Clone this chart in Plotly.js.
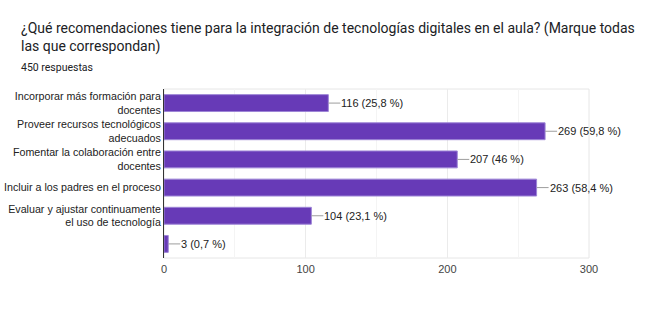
<!DOCTYPE html>
<html>
<head>
<meta charset="utf-8">
<script src="https://cdn.plot.ly/plotly-3.0.1.min.js"></script>
<style>html,body{margin:0;padding:0;background:#fff;}#chart{width:655px;height:309px;}</style>
</head>
<body>
<div id="chart"></div>
<script>
const categories = [
  "Incorporar más formación para<br>docentes",
  "Proveer recursos tecnológicos<br>adecuados",
  "Fomentar la colaboración entre<br>docentes",
  "Incluir a los padres en el proceso",
  "Evaluar y ajustar continuamente<br>el uso de tecnología",
  ""
];
const counts = [116, 269, 207, 263, 104, 3];
const percents = ["25,8", "59,8", "46", "58,4", "23,1", "0,7"];
const xTickVals = [0, 100, 200, 300];
const titleText = "¿Qué recomendaciones tiene para la integración de tecnologías digitales en el aula? (Marque todas<br>las que correspondan)";
const subtitleText = "450 respuestas";

const idx = categories.map((_, i) => i);

const trace = {
  type: 'bar',
  orientation: 'h',
  x: counts,
  y: idx,
  width: 0.6,
  marker: {color: '#673ab7', line: {color: '#9d85d6', width: 1}},
  hoverinfo: 'none'
};

const annotations = counts.map((v, i) => ({
  x: v, y: i, xref: 'x', yref: 'y',
  text: v + ' (' + percents[i] + ' %)',
  showarrow: true, arrowhead: 0, arrowwidth: 1, arrowcolor: '#9e9e9e',
  ax: 12, ay: 0, xanchor: 'left', borderpad: 0,
  font: {family: 'Arial, "Liberation Sans", sans-serif', size: 11, color: '#222'}
}));
annotations.push({
  xref: 'paper', yref: 'paper', x: -164/425 + 19/425, y: 1 + (89-18)/169,
  xanchor: 'left', yanchor: 'top', align: 'left', showarrow: false,
  text: titleText,
  font: {family: 'Roboto, sans-serif', size: 14, color: '#202124'}
});
annotations.push({
  xref: 'paper', yref: 'paper', x: -164/425 + 19/425, y: 1 + (89-59)/169,
  xanchor: 'left', yanchor: 'top', align: 'left', showarrow: false,
  text: subtitleText,
  font: {family: 'Roboto, sans-serif', size: 10.5, color: '#202124'}
});

const layout = {
  width: 655, height: 309,
  margin: {l: 164, r: 66, t: 89, b: 51},
  paper_bgcolor: '#fff', plot_bgcolor: '#fff',
  showlegend: false,
  bargap: 0.4,
  xaxis: {
    range: [0, 300], tickvals: xTickVals, ticktext: xTickVals.map(String),
    showgrid: true, gridcolor: '#ebebeb', gridwidth: 1,
    minor: {dtick: 50, tick0: 0, showgrid: true, gridcolor: '#f4f4f4', gridwidth: 1},
    zeroline: false, showline: false, ticks: '', ticklabelstandoff: 3,
    tickfont: {family: 'Arial, "Liberation Sans", sans-serif', size: 11, color: '#444'},
    fixedrange: true
  },
  yaxis: {
    range: [5.5, -0.5], tickvals: idx, ticktext: categories,
    showgrid: false, zeroline: false, showline: true, linecolor: '#333', linewidth: 1,
    ticks: '', ticklen: 4,
    tickfont: {family: 'Arial, "Liberation Sans", sans-serif', size: 10.7, color: '#222'},
    fixedrange: true
  },
  shapes: [{
    type: 'rect', xref: 'paper', yref: 'paper', x0: 0, x1: 1, y0: 0, y1: 1,
    line: {color: '#e6e6e6', width: 1}, layer: 'below'
  }],
  annotations: annotations
};

Plotly.newPlot('chart', [trace], layout, {displayModeBar: false, staticPlot: true});
</script>
</body>
</html>
